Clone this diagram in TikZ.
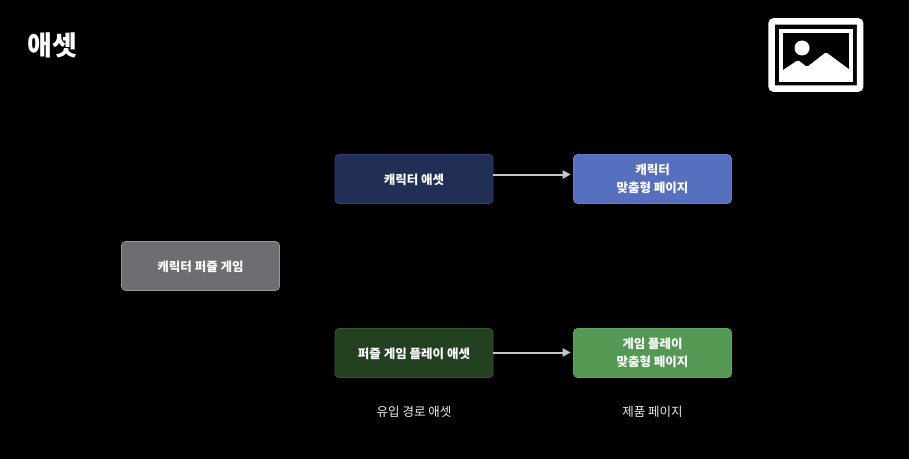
\documentclass[tikz,border=0pt]{standalone}
\usepackage{fontspec}
\setmainfont{Noto Sans CJK KR}
\usetikzlibrary{positioning,arrows.meta}
\definecolor{gamegray}{HTML}{6E6D72}
\definecolor{chardark}{HTML}{212E55}
\definecolor{charblue}{HTML}{5670BF}
\definecolor{playdark}{HTML}{234020}
\definecolor{playgreen}{HTML}{559853}
\tikzset{
    assetbox/.style={draw, line width=0.7pt, rounded corners=4pt, minimum width=158pt, minimum height=49pt,
        align=center, text=white, font=\fontsize{12.5}{18.5}\selectfont\bfseries,
        execute at begin node={\rule{0pt}{13pt}}},
    linkarrow/.style={draw=white!78!black, line width=2pt, shorten >=2.5pt, -{Triangle[length=8pt,width=8pt]}},
    caption/.style={text=white!92!black, font=\fontsize{12.5}{16}\selectfont}
}
\begin{document}
\begin{tikzpicture}[x=1pt,y=1pt]
    \fill[black] (0,0) rectangle (909,459);
    \useasboundingbox (0,0) rectangle (909,459);
    \node (title) at (52,414) [text=white, font=\fontsize{27}{30}\selectfont\bfseries] {애셋};
    % icon
    \draw[white, line width=6.5pt, rounded corners=2pt] (771.7,370.5) rectangle (860,437.5);
    \draw[white, line width=3.5pt] (781,379) rectangle (851,428);
    \fill[white] (802,411) circle (7.5);
    \fill[white, rounded corners=1.5pt] (782,388.3) -- (782,378) -- (851,378) -- (851,388.3) -- (826,406.8) -- (807,392) -- (798,399) -- cycle;
    % boxes
    \node[assetbox, draw=white!28!gamegray, fill=gamegray] (gamebox) at (200.5,193) {캐릭터 퍼즐 게임};
    \node[assetbox, draw=charblue!30!chardark, fill=chardark] (charasset) at (414,280) {캐릭터 애셋};
    \node[assetbox, draw=charblue!90!white, fill=charblue] (charpage) at (652.5,280) {캐릭터\\맞춤형 페이지};
    \node[assetbox, draw=playgreen!30!playdark, fill=playdark] (playasset) at (414,106) {퍼즐 게임 플레이 애셋};
    \node[assetbox, draw=playgreen!90!white, fill=playgreen] (playpage) at (652.5,106) {게임 플레이\\맞춤형 페이지};
    % arrows
    \draw[linkarrow] ([yshift=4.5pt]charasset.east) -- ([yshift=4.5pt]charpage.west);
    \draw[linkarrow] ([yshift=0.5pt]playasset.east) -- ([yshift=0.5pt]playpage.west);
    % captions
    \node[caption] (sourcelabel) at (414,47) {유입 경로 애셋};
    \node[caption] (pagelabel) at (652.5,47) {제품 페이지};
\end{tikzpicture}
\end{document}
